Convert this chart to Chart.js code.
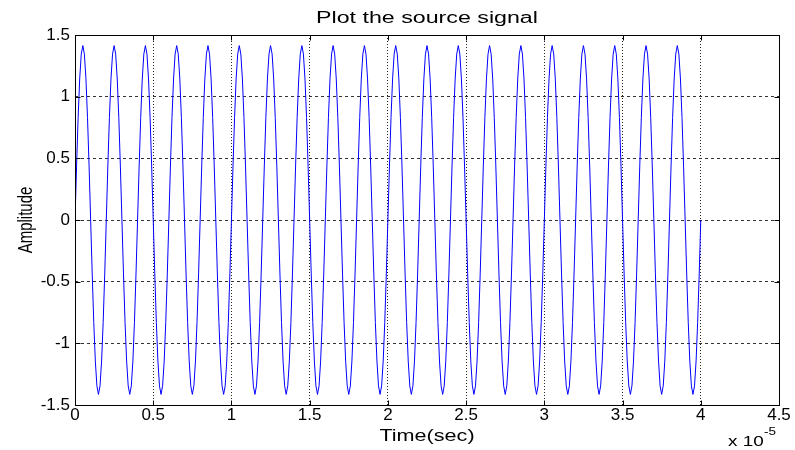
<!DOCTYPE html>
<html>
<head>
<meta charset="utf-8">
<title>Plot the source signal</title>
<script src="https://cdn.jsdelivr.net/npm/chart.js@4/dist/chart.umd.min.js"></script>
<style>
  body { margin: 0; background: #fff; }
  canvas { display: block; }
</style>
</head>
<body>
<canvas id="signalChart" width="795" height="450"></canvas>
<script>
// sampled source signal, time in units of 1e-5 s
const timeStep = 0.01;
const amplitude = [
  0, 0.437, 0.831, 1.144, 1.345, 1.414, 1.345, 1.144, 0.831, 0.437, 0, -0.437, -0.831, -1.144, -1.345, -1.414, -1.345, -1.144, -0.831, -0.437,
  0, 0.437, 0.831, 1.144, 1.345, 1.414, 1.345, 1.144, 0.831, 0.437, 0, -0.437, -0.831, -1.144, -1.345, -1.414, -1.345, -1.144, -0.831, -0.437,
  0, 0.437, 0.831, 1.144, 1.345, 1.414, 1.345, 1.144, 0.831, 0.437, 0, -0.437, -0.831, -1.144, -1.345, -1.414, -1.345, -1.144, -0.831, -0.437,
  0, 0.437, 0.831, 1.144, 1.345, 1.414, 1.345, 1.144, 0.831, 0.437, 0, -0.437, -0.831, -1.144, -1.345, -1.414, -1.345, -1.144, -0.831, -0.437,
  0, 0.437, 0.831, 1.144, 1.345, 1.414, 1.345, 1.144, 0.831, 0.437, 0, -0.437, -0.831, -1.144, -1.345, -1.414, -1.345, -1.144, -0.831, -0.437,
  0, 0.437, 0.831, 1.144, 1.345, 1.414, 1.345, 1.144, 0.831, 0.437, 0, -0.437, -0.831, -1.144, -1.345, -1.414, -1.345, -1.144, -0.831, -0.437,
  0, 0.437, 0.831, 1.144, 1.345, 1.414, 1.345, 1.144, 0.831, 0.437, 0, -0.437, -0.831, -1.144, -1.345, -1.414, -1.345, -1.144, -0.831, -0.437,
  0, 0.437, 0.831, 1.144, 1.345, 1.414, 1.345, 1.144, 0.831, 0.437, 0, -0.437, -0.831, -1.144, -1.345, -1.414, -1.345, -1.144, -0.831, -0.437,
  0, 0.437, 0.831, 1.144, 1.345, 1.414, 1.345, 1.144, 0.831, 0.437, 0, -0.437, -0.831, -1.144, -1.345, -1.414, -1.345, -1.144, -0.831, -0.437,
  0, 0.437, 0.831, 1.144, 1.345, 1.414, 1.345, 1.144, 0.831, 0.437, 0, -0.437, -0.831, -1.144, -1.345, -1.414, -1.345, -1.144, -0.831, -0.437,
  0, 0.437, 0.831, 1.144, 1.345, 1.414, 1.345, 1.144, 0.831, 0.437, 0, -0.437, -0.831, -1.144, -1.345, -1.414, -1.345, -1.144, -0.831, -0.437,
  0, 0.437, 0.831, 1.144, 1.345, 1.414, 1.345, 1.144, 0.831, 0.437, 0, -0.437, -0.831, -1.144, -1.345, -1.414, -1.345, -1.144, -0.831, -0.437,
  0, 0.437, 0.831, 1.144, 1.345, 1.414, 1.345, 1.144, 0.831, 0.437, 0, -0.437, -0.831, -1.144, -1.345, -1.414, -1.345, -1.144, -0.831, -0.437,
  0, 0.437, 0.831, 1.144, 1.345, 1.414, 1.345, 1.144, 0.831, 0.437, 0, -0.437, -0.831, -1.144, -1.345, -1.414, -1.345, -1.144, -0.831, -0.437,
  0, 0.437, 0.831, 1.144, 1.345, 1.414, 1.345, 1.144, 0.831, 0.437, 0, -0.437, -0.831, -1.144, -1.345, -1.414, -1.345, -1.144, -0.831, -0.437,
  0, 0.437, 0.831, 1.144, 1.345, 1.414, 1.345, 1.144, 0.831, 0.437, 0, -0.437, -0.831, -1.144, -1.345, -1.414, -1.345, -1.144, -0.831, -0.437,
  0, 0.437, 0.831, 1.144, 1.345, 1.414, 1.345, 1.144, 0.831, 0.437, 0, -0.437, -0.831, -1.144, -1.345, -1.414, -1.345, -1.144, -0.831, -0.437,
  0, 0.437, 0.831, 1.144, 1.345, 1.414, 1.345, 1.144, 0.831, 0.437, 0, -0.437, -0.831, -1.144, -1.345, -1.414, -1.345, -1.144, -0.831, -0.437,
  0, 0.437, 0.831, 1.144, 1.345, 1.414, 1.345, 1.144, 0.831, 0.437, 0, -0.437, -0.831, -1.144, -1.345, -1.414, -1.345, -1.144, -0.831, -0.437,
  0, 0.437, 0.831, 1.144, 1.345, 1.414, 1.345, 1.144, 0.831, 0.437, 0, -0.437, -0.831, -1.144, -1.345, -1.414, -1.345, -1.144, -0.831, -0.437,
  0
];

// axis limits and tick spacing
const xRange = [0, 4.5];
const xStep = 0.5;
const yRange = [-1.5, 1.5];
const yStep = 0.5;

const titleText = 'Plot the source signal';
const xLabel = 'Time(sec)';
const yLabel = 'Amplitude';
const xExponent = ['x 10', '-5'];

const points = amplitude.map((v, i) => ({ x: i * timeStep, y: v }));

// text in the figure is a little wider than the font's natural width
const STRETCH = 1.35;
const LABEL_FONT = '"Liberation Sans", Arial, sans-serif';

function stretchedText(ctx, text, x, y, size, align, stretch) {
    ctx.save();
    ctx.font = size + 'px ' + LABEL_FONT;
    ctx.fillStyle = '#000';
    ctx.textAlign = align || 'center';
    ctx.textBaseline = 'alphabetic';
    ctx.translate(x, y);
    ctx.scale(stretch || STRETCH, 1);
    ctx.fillText(text, 0, 0);
    ctx.restore();
}

// MATLAB-style tick text: 1 rather than 1.0
const plainTick = v => String(Math.round(v * 10) / 10);

// box round the axes, inward tick marks, title and axis labels
const figureDecor = {
    id: 'figureDecor',
    afterDraw(chart) {
        const { ctx, chartArea: a, scales } = chart;
        const L = Math.round(a.left) + 0.5, R = Math.round(a.right) + 0.5;
        const T = Math.round(a.top) + 0.5, B = Math.round(a.bottom) + 0.5;

        ctx.save();
        ctx.strokeStyle = '#000';
        ctx.lineWidth = 1;
        ctx.strokeRect(L, T, R - L, B - T);

        ctx.beginPath();
        scales.x.ticks.forEach(t => {
            const px = Math.round(scales.x.getPixelForValue(t.value)) + 0.5;
            ctx.moveTo(px, B); ctx.lineTo(px, B - 5);
            ctx.moveTo(px, T); ctx.lineTo(px, T + 5);
        });
        scales.y.ticks.forEach(t => {
            const py = Math.round(scales.y.getPixelForValue(t.value)) + 0.5;
            ctx.moveTo(L, py); ctx.lineTo(L + 5, py);
            ctx.moveTo(R, py); ctx.lineTo(R - 5, py);
        });
        ctx.stroke();
        ctx.restore();

        const cx = (a.left + a.right) / 2;
        stretchedText(ctx, titleText, cx, 23, 16, 'center', 1.45);
        stretchedText(ctx, xLabel, cx, 441, 16, 'center');

        // rotated y label; the stretch works across the glyphs
        ctx.save();
        ctx.translate(32, (a.top + a.bottom) / 2);
        ctx.scale(STRETCH, 1);
        ctx.rotate(-Math.PI / 2);
        ctx.font = '15px ' + LABEL_FONT;
        ctx.fillStyle = '#000';
        ctx.textAlign = 'center';
        ctx.textBaseline = 'alphabetic';
        ctx.fillText(yLabel, 0, 0);
        ctx.restore();

        stretchedText(ctx, xExponent[0], 728, 446, 14, 'left');
        stretchedText(ctx, xExponent[1], 764, 435, 10, 'left');
    }
};

const tickFont = { family: LABEL_FONT, size: 17 };

new Chart(document.getElementById('signalChart'), {
    type: 'line',
    data: {
        datasets: [{
            data: points,
            borderColor: '#0000ff',
            borderWidth: 1,
            pointRadius: 0,
            tension: 0,
            fill: false
        }]
    },
    options: {
        responsive: false,
        animation: false,
        layout: { padding: { top: 35, right: 16, left: 0, bottom: 0 } },
        plugins: {
            legend: { display: false },
            tooltip: { enabled: false },
            title: { display: false }
        },
        scales: {
            x: {
                type: 'linear',
                min: xRange[0],
                max: xRange[1],
                afterFit: s => { s.height = 45; },
                ticks: {
                    stepSize: xStep,
                    autoSkip: false,
                    maxRotation: 0,
                    color: '#000',
                    font: tickFont,
                    padding: 0,
                    callback: plainTick
                },
                grid: { color: '#222', drawTicks: false },
                border: { display: false, dash: [1, 2] }
            },
            y: {
                min: yRange[0],
                max: yRange[1],
                afterFit: s => { s.width = 75; },
                ticks: {
                    stepSize: yStep,
                    color: '#000',
                    font: tickFont,
                    padding: 5,
                    callback: plainTick
                },
                grid: { color: '#333', drawTicks: false },
                border: { display: false, dash: [3, 3] }
            }
        }
    },
    plugins: [figureDecor]
});
</script>
</body>
</html>
